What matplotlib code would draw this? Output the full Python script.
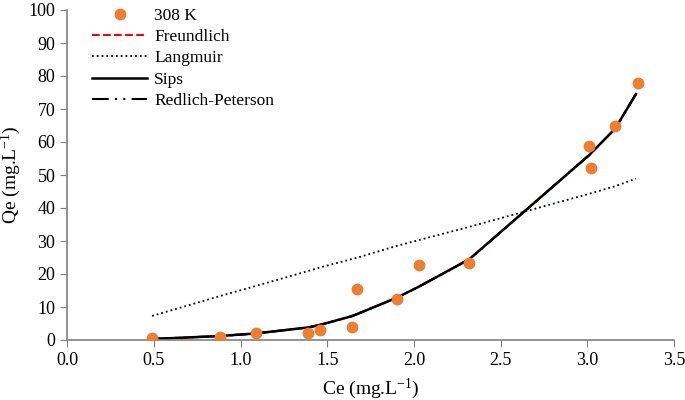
import matplotlib.pyplot as plt

# experimental points, 308 K
ce = [0.49, 0.88, 1.09, 1.39, 1.46, 1.64, 1.67, 1.90, 2.03, 2.32, 3.01, 3.02, 3.16, 3.29]
qe = [0.6, 0.8, 2.0, 2.2, 3.0, 4.0, 15.5, 12.4, 22.7, 23.3, 58.8, 52.1, 64.8, 77.9]

# model curves, read at the experimental Ce values
ce_fit = [0.49, 0.88, 1.09, 1.39, 1.46, 1.64, 1.67, 1.90, 2.03, 2.32, 3.01, 3.16, 3.28]
freundlich = [0.3, 1.2, 2.0, 3.8, 4.6, 7.2, 7.8, 12.8, 16.2, 24.5, 56.0, 64.0, 74.5]
langmuir = [7.3, 13.3, 16.4, 20.9, 22.0, 24.5, 24.9, 28.5, 30.3, 34.3, 44.3, 46.6, 48.9]
sips = [0.3, 1.2, 2.0, 3.8, 4.6, 7.2, 7.8, 12.8, 16.2, 24.5, 56.0, 64.0, 74.5]
redlich_peterson = [0.3, 1.2, 2.0, 3.8, 4.6, 7.2, 7.8, 12.8, 16.2, 24.5, 56.0, 64.0, 74.5]

plt.rcParams['font.family'] = ['Liberation Serif', 'DejaVu Serif']
plt.rcParams['mathtext.fontset'] = 'custom'
plt.rcParams['mathtext.rm'] = 'Liberation Serif'
plt.rcParams['mathtext.it'] = 'Liberation Serif:italic'

fig = plt.figure(figsize=(6.85, 4.0), dpi=100)
ax = fig.add_axes([0.098, 0.15, 0.886, 0.825])

ax.plot(ce, qe, 'o', color='#ED7D31', markersize=7.5, label='308 K', zorder=5)
ax.plot(ce_fit, freundlich, '--', color='#FF0000', lw=1.5, label='Freundlich')
ax.plot(ce_fit, langmuir, ':', color='black', lw=1.3, label='Langmuir')
ax.plot(ce_fit, sips, '-', color='black', lw=1.8, label='Sips')
ax.plot(ce_fit, redlich_peterson, color='black', lw=1.5, dashes=(8, 3, 1, 3, 1, 3),
        label='Redlich-Peterson')

ax.set_xlim(0, 3.5)
ax.set_ylim(0, 100)
ax.set_xticks([0.0, 0.5, 1.0, 1.5, 2.0, 2.5, 3.0, 3.5])
ax.set_xticklabels(['0.0', '0.5', '1.0', '1.5', '2.0', '2.5', '3.0', '3.5'])
ax.set_yticks(range(0, 101, 10))

for side in ['top', 'right']:
    ax.spines[side].set_visible(False)
for side in ['left', 'bottom']:
    ax.spines[side].set_color('#808080')
    ax.spines[side].set_linewidth(1.2)
ax.tick_params(colors='black', labelsize=13, length=5, color='#808080')

ax.set_xlabel('Ce (mg.L$^{\\mathrm{-1}}$)', fontsize=14, labelpad=6)
ax.set_ylabel('Qe (mg.L$^{\\mathrm{-1}}$)', fontsize=14, labelpad=4)

ax.legend(loc='upper left', bbox_to_anchor=(0.015, 1.055), frameon=False, fontsize=12.5,
          handlelength=3.2, handletextpad=0.4, labelspacing=0.3)

fig.savefig('out.png', dpi=100)
